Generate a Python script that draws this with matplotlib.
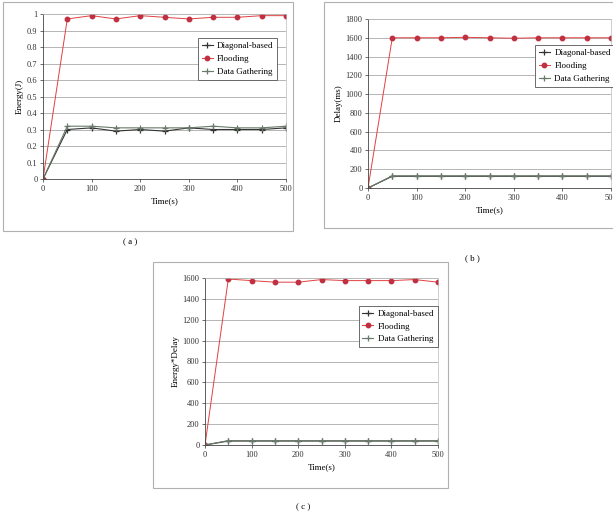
import matplotlib.pyplot as plt
from matplotlib.patches import Rectangle
import numpy as np

plt.rcParams['font.family'] = ['Liberation Serif', 'DejaVu Serif']

# dados
tempo = [0, 50, 100, 150, 200, 250, 300, 350, 400, 450, 500]

energia_diag = [0, 0.30, 0.31, 0.29, 0.30, 0.29, 0.31, 0.30, 0.30, 0.30, 0.31]
energia_flood = [0, 0.97, 0.99, 0.97, 0.99, 0.98, 0.97, 0.98, 0.98, 0.99, 0.99]
energia_gather = [0, 0.32, 0.32, 0.31, 0.31, 0.31, 0.31, 0.32, 0.31, 0.31, 0.32]

atraso_diag = [0, 125, 125, 125, 125, 125, 125, 125, 125, 125, 125]
atraso_flood = [0, 1600, 1600, 1600, 1605, 1600, 1595, 1600, 1600, 1600, 1600]
atraso_gather = [0, 130, 130, 130, 130, 130, 130, 130, 130, 130, 130]

ed_diag = [0, 38, 38, 38, 38, 38, 38, 38, 38, 38, 38]
ed_flood = [0, 1590, 1575, 1560, 1560, 1585, 1575, 1575, 1575, 1585, 1560]
ed_gather = [0, 42, 42, 42, 42, 42, 42, 42, 42, 42, 42]

legendas = ["Diagonal-based", "Flooding", "Data Gathering"]

W, H = 613, 523
fig = plt.figure(figsize=(W / 100, H / 100), dpi=100)


def caixa(x0, y0, x1, y1):
    # retangulo em pixels (origem no topo)
    fig.patches.append(Rectangle((x0 / W, 1 - y1 / H), (x1 - x0) / W, (y1 - y0) / H,
                                 transform=fig.transFigure, fill=False,
                                 edgecolor="#b0b0b0", linewidth=0.8))


def eixo(x0, y0, x1, y1):
    return fig.add_axes([x0 / W, 1 - y1 / H, (x1 - x0) / W, (y1 - y0) / H])


def painel(ax, diag, flood, gather, ymax, ystep, ylabel, fmt, leg_pos):
    ax.plot(tempo, diag, color="#333333", lw=0.8, marker="+", ms=4, mew=0.9, label=legendas[0])
    ax.plot(tempo, flood, color="#e04040", lw=0.7, marker="o", ms=3.2,
            mfc="#c03040", mec="#c03040", label=legendas[1])
    ax.plot(tempo, gather, color="#6a7a6a", lw=0.8, marker="+", ms=4, mew=0.9, label=legendas[2])
    ax.set_xlim(0, 500)
    ax.set_ylim(0, ymax)
    ax.set_xticks(np.arange(0, 501, 100))
    yt = np.arange(0, ymax + ystep / 2, ystep)
    ax.set_yticks(yt)
    ax.set_yticklabels([fmt(v) for v in yt])
    ax.grid(axis="y", color="#aaaaaa", lw=0.6)
    ax.set_axisbelow(True)
    ax.tick_params(labelsize=6, length=2, width=0.5, pad=2, colors="#333333")
    for s in ["top", "right"]:
        ax.spines[s].set_color("#bbbbbb")
        ax.spines[s].set_linewidth(0.5)
    for s in ["left", "bottom"]:
        ax.spines[s].set_color("#444444")
        ax.spines[s].set_linewidth(0.6)
    ax.set_xlabel("Time(s)", fontsize=6.5, labelpad=3)
    ax.set_ylabel(ylabel, fontsize=6.5, labelpad=2)
    leg = ax.legend(loc="upper left", bbox_to_anchor=leg_pos, fontsize=6.5, frameon=True,
                    fancybox=False, edgecolor="#555555", framealpha=1,
                    handlelength=1.2, handletextpad=0.5, borderpad=0.4, labelspacing=0.5)
    leg.get_frame().set_linewidth(0.6)


# (a) energia
caixa(3, 2, 293, 231)
ax1 = eixo(43, 14, 286, 179)
painel(ax1, energia_diag, energia_flood, energia_gather, 1.0, 0.1, "Energy(J)",
       lambda v: "0" if v == 0 else ("1" if abs(v - 1) < 1e-9 else f"{v:.1f}"), (0.62, 0.88))
fig.text(130 / W, 1 - 242 / H, "( a )", fontsize=6.5, ha="center", va="center")

# (b) atraso
caixa(324, 2, 640, 228)
ax2 = eixo(368, 19, 611, 188)
painel(ax2, atraso_diag, atraso_flood, atraso_gather, 1800, 200, "Delay(ms)",
       lambda v: f"{v:.0f}", (0.67, 0.87))
fig.text(472 / W, 1 - 258 / H, "( b )", fontsize=6.5, ha="center", va="center")

# (c) energia*atraso
caixa(153, 262, 448, 488)
ax3 = eixo(205, 278, 438, 445)
painel(ax3, ed_diag, ed_flood, ed_gather, 1600, 200, "Energy*Delay",
       lambda v: f"{v:.0f}", (0.64, 0.86))
fig.text(303 / W, 1 - 507 / H, "( c )", fontsize=6.5, ha="center", va="center")

fig.savefig("out.png", dpi=100)
